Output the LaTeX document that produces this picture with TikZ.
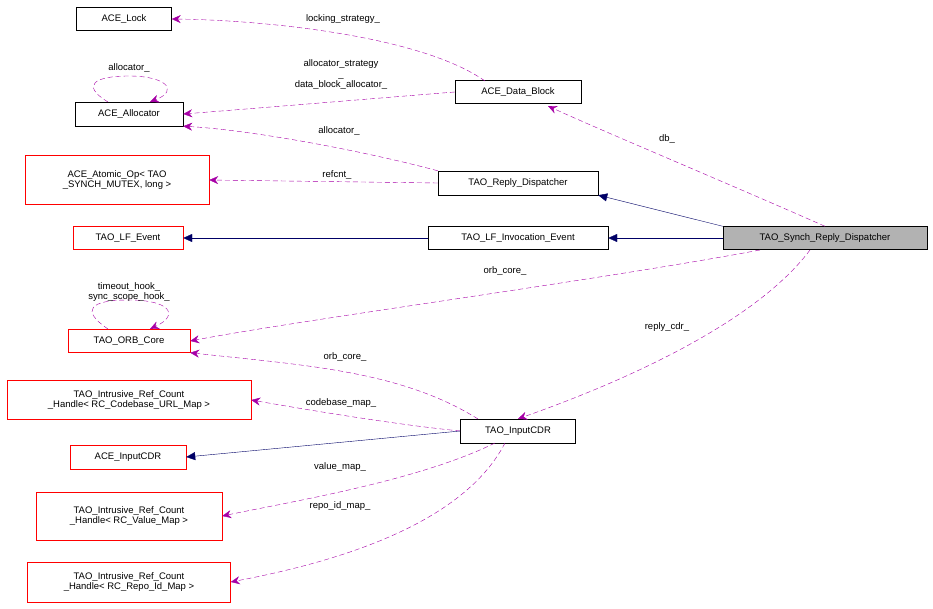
\documentclass[tikz,border=0pt]{standalone}
\usepackage{fontspec}
\setmainfont{Liberation Sans}
\usetikzlibrary{arrows.meta}
\begin{document}
\begin{tikzpicture}[x=1pt,y=-1pt,
 box/.style={draw=black,fill=white,inner sep=2pt,font=\fontsize{9.5}{10.5}\selectfont,align=center},
 rbox/.style={box,draw=red},
 dep/.style={densely dashed,draw=violet!70!magenta,dash pattern=on 5pt off 3pt,-{Triangle[open,length=0pt]}, -{Stealth[length=9pt,width=8pt,fill=violet!70!magenta]}},
 inh/.style={draw=blue!40!black,-{Triangle[open,length=9pt,width=8pt,fill=blue!40!black]}},
 lab/.style={font=\fontsize{9.5}{10.5}\selectfont,align=center,inner sep=1pt}]
\useasboundingbox (0,0) rectangle (933,609);
\node[box,minimum width=95,minimum height=23] (lock) at (124,19) {ACE\_Lock};
\node[box,minimum width=126,minimum height=23] (db) at (518,92) {ACE\_Data\_Block};
\node[box,minimum width=108,minimum height=24] (alloc) at (129,114) {ACE\_Allocator};
\node[rbox,minimum width=184,minimum height=49] (atom) at (117,180) {ACE\_Atomic\_Op< TAO\\\_SYNCH\_MUTEX, long >};
\node[box,minimum width=160,minimum height=24] (rd) at (518,183) {TAO\_Reply\_Dispatcher};
\node[rbox,minimum width=110,minimum height=23] (lfe) at (128,238) {TAO\_LF\_Event};
\node[box,minimum width=180,minimum height=23] (lfi) at (518,238) {TAO\_LF\_Invocation\_Event};
\node[box,fill=black!30,minimum width=204,minimum height=23] (srd) at (825,238) {TAO\_Synch\_Reply\_Dispatcher};
\node[rbox,minimum width=122,minimum height=23] (orb) at (129,341) {TAO\_ORB\_Core};
\node[rbox,minimum width=244,minimum height=39] (cb) at (129,400) {TAO\_Intrusive\_Ref\_Count\\\_Handle< RC\_Codebase\_URL\_Map >};
\node[box,minimum width=115,minimum height=24] (icdr) at (518,431) {TAO\_InputCDR};
\node[rbox,minimum width=116,minimum height=24] (aicdr) at (128,457) {ACE\_InputCDR};
\node[rbox,minimum width=186,minimum height=48] (vm) at (129,516) {TAO\_Intrusive\_Ref\_Count\\\_Handle< RC\_Value\_Map >};
\node[rbox,minimum width=203,minimum height=40] (rm) at (129,582) {TAO\_Intrusive\_Ref\_Count\\\_Handle< RC\_Repo\_Id\_Map >};

\draw[dep] (485,81) .. controls (420,35) and (260,20) .. (lock.east);
\node[lab] at (343,19) {locking\_strategy\_};
\draw[dep] (db.west) .. controls (380,98) and (260,108) .. (alloc.east);
\node[lab] at (341,75) {allocator\_strategy\\\_\\data\_block\_allocator\_};
\draw[dep] (rd.north west) .. controls (360,150) and (250,130) .. (alloc.south east);
\node[lab] at (339,131) {allocator\_};
\draw[dep] (rd.west) -- (atom.east);
\node[lab] at (337,175) {refcnt\_};
\draw[inh] (srd.north west) -- (rd.south east);
\draw[dep] (srd.north) .. controls (720,180) and (600,130) .. (548,106);
\node[lab] at (667,139) {db\_};
\draw[inh] (srd) -- (lfi);
\draw[inh] (lfi) -- (lfe);
\draw[dep] (760,250) .. controls (600,280) and (300,320) .. (orb.east);
\node[lab] at (505,271) {orb\_core\_};
\draw[dep] (108,329) .. controls (80,310) and (90,300) .. (129,300) .. controls (170,300) and (180,315) .. (150,329);
\node[lab] at (129,292) {timeout\_hook\_\\sync\_scope\_hook\_};
\draw[dep] (108,102) .. controls (80,85) and (95,76) .. (129,76) .. controls (165,76) and (180,90) .. (150,102);
\node[lab] at (129,68) {allocator\_};
\draw[dep] (810,250) .. controls (750,330) and (600,390) .. (icdr.north);
\node[lab] at (667,327) {reply\_cdr\_};
\draw[dep] (478,419) .. controls (400,370) and (300,365) .. (orb.south east);
\node[lab] at (345,357) {orb\_core\_};
\draw[dep] (icdr.west) .. controls (400,425) and (320,412) .. (cb.east);
\node[lab] at (341,403) {codebase\_map\_};
\draw[inh] (icdr.west) -- (aicdr.east);
\draw[dep] (495,443) .. controls (420,480) and (300,500) .. (vm.east);
\node[lab] at (340,467) {value\_map\_};
\draw[dep] (505,443) .. controls (460,530) and (320,565) .. (rm.east);
\node[lab] at (340,506) {repo\_id\_map\_};
\end{tikzpicture}
\end{document}
